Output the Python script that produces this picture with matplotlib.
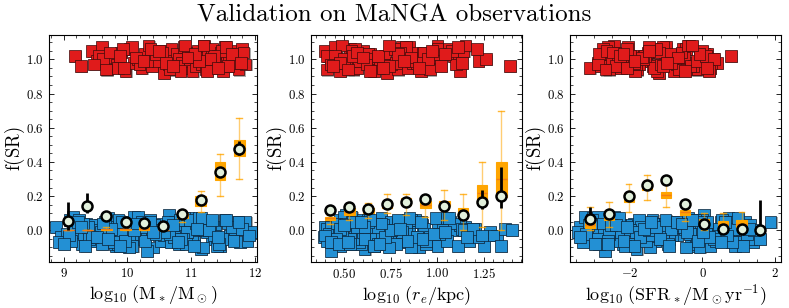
import matplotlib
matplotlib.use("Agg")
import matplotlib.pyplot as plt
import matplotlib.patheffects as pe
from matplotlib.ticker import MultipleLocator

plt.rcParams['font.family'] = 'serif'
plt.rcParams['font.serif'] = ['cmr10', 'DejaVu Serif']
plt.rcParams['mathtext.fontset'] = 'cm'
plt.rcParams['axes.formatter.use_mathtext'] = True
plt.rcParams['axes.unicode_minus'] = True

# ---------------- scatter data (same galaxies in the three panels) ----------------
red_f = [1.02, 0.96, 1.05, 0.99, 1.07, 0.94, 1.01, 0.97, 1.04, 0.93,
         1.06, 0.98, 1.00, 0.95, 1.03, 1.08, 0.96, 1.02, 0.99, 1.05,
         0.92, 1.01, 0.97, 1.06, 0.94, 1.03, 1.00, 0.98, 1.07, 0.95,
         1.04, 0.99, 0.93, 1.02, 0.96, 1.05, 1.01, 0.97, 1.08, 0.94,
         1.03, 0.98, 1.06, 1.00, 0.95, 1.02, 0.97, 1.04, 0.93, 1.07,
         0.99, 1.01, 0.96, 1.05, 0.98, 1.03, 0.94, 1.00, 1.06, 0.97,
         1.02, 0.95, 1.07, 0.99, 1.04, 0.96, 1.01, 0.93, 1.05, 0.98,
         1.00, 1.06, 0.97, 1.03, 0.94, 1.08, 0.99, 1.02, 0.96, 1.04,
         0.97, 1.04, 0.95, 1.01, 1.06, 0.98, 0.93, 1.03, 1.00, 1.07,
         0.94, 1.02, 0.99, 1.05, 0.96, 1.01, 1.08, 0.95, 1.03, 0.98]
red_mass = [9.18, 9.27, 9.45, 9.52, 9.60, 9.68, 9.75, 9.83, 9.90, 9.97,
            10.03, 10.10, 10.16, 10.22, 10.28, 10.33, 10.38, 10.43, 10.48, 10.53,
            10.57, 10.61, 10.65, 10.69, 10.73, 10.77, 10.81, 10.85, 10.88, 10.92,
            10.95, 10.98, 11.02, 11.05, 11.08, 11.11, 11.14, 11.17, 11.20, 11.23,
            11.26, 11.29, 11.32, 11.35, 11.38, 11.41, 11.44, 11.47, 11.50, 11.53,
            11.56, 11.59, 11.62, 11.65, 11.68, 11.71, 11.74, 11.77, 11.80, 11.85,
            9.55, 9.85, 10.07, 10.31, 10.55, 10.79, 11.00, 11.25, 11.48, 11.70,
            9.62, 9.93, 10.19, 10.45, 10.67, 10.90, 11.12, 11.36, 11.58, 11.82,
            9.48, 9.72, 9.95, 10.13, 10.36, 10.60, 10.83, 11.06, 11.30, 11.55,
            9.66, 9.88, 10.25, 10.50, 10.71, 10.94, 11.19, 11.42, 11.64, 11.78]
red_re = [0.42, 0.47, 0.40, 0.52, 0.45, 0.55, 0.43, 0.50, 0.58, 0.48,
          0.53, 0.61, 0.44, 0.57, 0.64, 0.49, 0.67, 0.41, 0.70, 0.60,
          0.73, 0.46, 0.76, 0.56, 0.79, 0.63, 0.82, 0.51, 0.85, 0.68,
          0.88, 0.59, 0.91, 0.72, 0.94, 0.54, 0.97, 0.75, 1.00, 0.65,
          1.03, 0.78, 1.06, 0.62, 0.84, 1.09, 0.71, 0.92, 1.12, 0.81,
          1.22, 0.99, 1.39, 1.14, 0.87, 1.05, 0.96, 1.26, 1.21, 1.10,
          0.45, 0.69, 0.83, 0.58, 0.93, 0.74, 1.01, 0.66, 1.08, 0.89,
          0.50, 0.77, 0.62, 0.98, 0.41, 1.15, 0.86, 0.55, 1.02, 0.80,
          0.43, 0.57, 0.71, 0.86, 1.00, 0.48, 0.64, 0.79, 0.95, 1.11,
          0.52, 0.68, 0.82, 0.97, 0.44, 0.60, 0.74, 0.90, 1.04, 1.13]
red_sfr = [0.79, -2.80, -2.55, -2.30, -2.05, -1.80, -1.55, -1.30, -1.05, -0.80,
           -0.55, -0.30, -0.05, 0.20, -2.70, -2.45, -2.20, -1.95, -1.70, -1.45,
           -1.20, -0.95, -0.70, -0.45, -0.20, 0.05, 0.30, -2.90, -2.62, -3.12,
           -2.37, -2.12, -1.87, -1.62, -1.37, -1.12, -0.87, -0.62, -0.37, -0.12,
           0.13, 0.41, -2.75, -2.50, -2.25, -2.00, -1.75, -1.50, -1.25, -1.00,
           -0.75, -0.50, -0.25, 0.00, 0.25, -2.85, -2.58, -2.33, -2.08, -1.83,
           -1.58, -1.33, -1.08, -0.83, -0.58, -0.33, -0.08, 0.17, -2.65, -1.90,
           -1.65, -1.40, -1.15, -0.90, -0.65, -0.40, -0.15, 0.10, -2.40, -1.20,
           -2.88, -2.48, -2.08, -1.68, -1.28, -0.88, -0.48, -0.08, 0.32, -1.48,
           -2.68, -2.28, -1.88, -1.48, -1.08, -0.68, -0.28, 0.12, -2.18, -0.98]

blue_f = [0.02, -0.05, 0.06, -0.02, -0.08, 0.04, 0.00, -0.06, 0.03, -0.03,
          0.07, -0.01, -0.09, 0.05, -0.04, 0.01, -0.07, 0.08, -0.02, 0.03,
          -0.05, 0.00, 0.06, -0.10, 0.02, -0.03, 0.04, -0.06, 0.09, -0.01,
          0.05, -0.08, 0.01, -0.04, 0.07, -0.02, -0.06, 0.03, -0.11, 0.00,
          0.04, -0.05, 0.02, -0.09, 0.06, -0.03, 0.01, -0.07, 0.05, -0.01,
          -0.04, 0.08, -0.02, 0.03, -0.08, 0.00, 0.06, -0.05, 0.02, -0.12,
          0.01, -0.06, 0.05, -0.03, 0.07, -0.07, 0.03, -0.01, -0.09, 0.04,
          -0.02, 0.06, -0.05, 0.00, 0.02, -0.08, 0.05, -0.04, 0.08, -0.06,
          0.03, -0.03, -0.07, 0.06, -0.01, 0.04, -0.10, 0.01, -0.05, 0.05,
          -0.06, 0.02, 0.05, -0.02, -0.09, 0.03, 0.00, -0.04, 0.06, 0.00,
          0.04, -0.01, -0.08, 0.05, 0.01, -0.05, 0.07, -0.03, 0.02, -0.06,
          -0.07, 0.03, -0.04, 0.01, -0.10, 0.05, -0.02, -0.08, 0.00, 0.06,
          -0.03, -0.09, 0.04, -0.06, 0.02, -0.01, -0.05, 0.07, -0.08, 0.01,
          0.05, -0.04, -0.07, 0.00, -0.02, 0.03, -0.09, 0.06, -0.06, -0.03,
          -0.08, 0.02, -0.05, 0.04, -0.01, -0.07, 0.01, -0.04, 0.05, -0.09]
blue_mass = [8.88, 9.02, 9.10, 9.20, 9.28, 9.35, 9.42, 9.50, 9.57, 9.63,
             9.70, 9.76, 9.82, 9.88, 9.94, 10.00, 10.05, 10.10, 10.15, 10.20,
             10.25, 10.30, 10.35, 10.40, 10.45, 10.50, 10.55, 10.60, 10.65, 10.70,
             10.75, 10.80, 10.85, 10.90, 10.95, 11.00, 11.05, 11.10, 11.15, 11.20,
             11.26, 11.32, 11.38, 11.45, 11.52, 11.60, 11.68, 11.76, 11.85, 11.93,
             8.95, 9.15, 9.32, 9.47, 9.60, 9.73, 9.86, 9.98, 10.12, 10.30,
             10.38, 10.52, 10.63, 10.77, 10.88, 11.02, 11.13, 11.24, 11.40, 11.58,
             9.05, 9.24, 9.40, 9.55, 9.68, 9.80, 9.92, 10.03, 10.17, 10.28,
             10.42, 10.57, 10.68, 10.82, 10.93, 11.07, 11.18, 11.30, 11.48, 11.70,
             9.12, 9.38, 9.65, 9.90, 10.08, 10.33, 10.48, 10.73, 10.98, 11.22,
             9.30, 9.58, 9.85, 10.22, 10.62, 10.87, 11.12, 11.35, 11.63, 11.88,
             8.92, 9.18, 9.45, 9.75, 10.02, 10.36, 10.66, 10.92, 11.28, 11.55,
             9.08, 9.34, 9.62, 9.96, 10.26, 10.58, 10.84, 11.16, 11.44, 11.80,
             9.22, 9.52, 9.78, 10.10, 10.44, 10.71, 11.04, 11.33, 11.66, 11.91,
             9.00, 9.27, 9.70, 10.14, 10.40, 10.79, 11.09, 11.42, 11.74, 9.88]
blue_re = [0.40, 0.45, 0.50, 0.42, 0.55, 0.47, 0.60, 0.52, 0.65, 0.44,
           0.70, 0.57, 0.48, 0.75, 0.62, 0.41, 0.80, 0.53, 0.67, 0.85,
           0.46, 0.72, 0.58, 0.90, 0.43, 0.77, 0.63, 0.95, 0.51, 0.82,
           1.00, 0.68, 0.49, 0.87, 1.05, 0.56, 0.74, 0.92, 0.61, 1.10,
           0.79, 0.97, 1.15, 0.66, 0.84, 1.02, 1.20, 0.71, 0.89, 1.28,
           0.39, 0.54, 0.44, 0.69, 0.59, 0.83, 0.48, 0.76, 0.64, 0.43,
           0.93, 0.52, 1.07, 0.73, 0.99, 0.58, 1.12, 0.81, 1.25, 0.67,
           0.42, 0.88, 0.55, 1.03, 0.47, 0.78, 0.62, 0.96, 0.50, 1.17,
           0.71, 1.32, 0.45, 0.86, 0.60, 1.09, 0.74, 1.36, 0.53, 0.91,
           0.41, 0.65, 0.83, 0.49, 1.00, 0.57, 0.77, 1.22, 0.63, 1.40,
           0.46, 0.70, 0.94, 0.54, 1.13, 0.61, 0.85, 1.30, 0.68, 1.05,
           0.44, 0.58, 0.72, 0.48, 0.86, 0.63, 1.01, 0.53, 1.14, 0.79,
           0.40, 0.66, 0.51, 0.94, 0.57, 0.81, 0.46, 1.06, 0.69, 1.19,
           0.55, 0.89, 0.43, 0.75, 0.98, 0.50, 1.11, 0.64, 0.84, 1.24,
           0.47, 0.61, 0.92, 0.70, 1.04, 0.52, 0.80, 1.16, 0.59, 1.34]
blue_sfr = [-3.40, -3.10, -2.80, -2.50, -2.20, -1.90, -1.60, -1.30, -1.00, -0.70,
            -0.40, -0.10, 0.20, 0.50, 0.80, 1.10, 1.40, -3.25, -2.95, -2.65,
            -2.35, -2.05, -1.75, -1.45, -1.15, -0.85, -0.55, -0.25, 0.05, 0.35,
            0.65, 0.95, 1.25, -3.32, -3.02, -2.72, -2.42, -2.12, -1.82, -1.52,
            -1.22, -0.92, -0.62, -0.32, -0.02, 0.28, 0.58, 0.88, 1.18, 1.48,
            -3.18, -2.88, -2.58, -2.28, -1.98, -1.68, -1.38, -1.08, -0.78, -2.70,
            -0.48, -0.18, 0.12, 0.42, 0.72, 1.02, 1.32, -3.45, -2.15, -1.25,
            -0.35, 0.55, -2.90, -1.95, -1.05, -0.15, 0.75, 1.55, -2.45, -1.55,
            -0.65, 0.25, 1.05, -3.05, -2.25, -1.35, -0.45, 0.45, 1.35, 1.88,
            -2.60, -1.70, -0.80, 0.10, 0.90, -3.15, -2.00, -1.10, -0.20, 0.70,
            -2.75, -1.85, -0.95, -0.05, 0.85, 1.60, -2.30, -1.40, -0.50, 0.38,
            -3.30, -2.52, -1.72, -0.88, -0.08, 0.62, 1.22, -2.85, -1.48, -0.28,
            0.48, 1.12, -3.08, -2.18, -1.28, -0.42, 0.32, 0.98, -2.62, -1.62,
            -0.72, 0.18, 0.82, 1.42, -3.22, -2.38, -1.88, -1.02, -0.12, 0.68,
            -2.98, -2.08, -1.18, -0.58, 0.02, 0.52, 1.28, -3.38, -1.42, -0.92]

# ---------------- binned statistics ----------------
# panel 1: stellar mass
mass_bins = [9.07, 9.37, 9.67, 9.97, 10.26, 10.56, 10.86, 11.15, 11.45, 11.75]
mass_obs = [0.056, 0.142, 0.085, 0.049, 0.041, 0.027, 0.097, 0.175, 0.339, 0.477]
mass_obs_lo = [0.0, 0.10, 0.06, 0.03, 0.03, 0.02, 0.08, 0.15, 0.32, 0.44]
mass_obs_hi = [0.167, 0.216, 0.10, 0.06, 0.05, 0.04, 0.11, 0.19, 0.36, 0.52]
mass_q1 = [0.0, 0.0, 0.0, 0.0, 0.0, 0.0, 0.07, 0.14, 0.294, 0.434]
mass_med = [0.0, 0.0, 0.005, 0.005, 0.01, 0.0, 0.085, 0.17, 0.34, 0.48]
mass_q3 = [0.0, 0.0, 0.01, 0.01, 0.02, 0.0, 0.10, 0.20, 0.40, 0.528]
mass_wlo = [0.0, 0.0, 0.0, 0.0, 0.0, 0.0, 0.05, 0.11, 0.202, 0.298]
mass_whi = [0.0, 0.0, 0.02, 0.02, 0.03, 0.0, 0.12, 0.228, 0.446, 0.659]

# panel 2: effective radius
re_bins = [0.425, 0.527, 0.629, 0.730, 0.832, 0.934, 1.036, 1.137, 1.239, 1.341]
re_obs = [0.119, 0.138, 0.125, 0.152, 0.165, 0.181, 0.142, 0.088, 0.164, 0.200]
re_obs_lo = [0.10, 0.12, 0.11, 0.14, 0.15, 0.165, 0.125, 0.07, 0.125, 0.129]
re_obs_hi = [0.13, 0.15, 0.14, 0.165, 0.18, 0.195, 0.155, 0.115, 0.235, 0.372]
re_q1 = [0.06, 0.09, 0.10, 0.13, 0.15, 0.13, 0.14, 0.085, 0.158, 0.196]
re_med = [0.07, 0.11, 0.115, 0.145, 0.17, 0.15, 0.155, 0.11, 0.216, 0.298]
re_q3 = [0.08, 0.13, 0.13, 0.16, 0.19, 0.17, 0.17, 0.13, 0.265, 0.401]
re_wlo = [0.037, 0.06, 0.07, 0.10, 0.09, 0.08, 0.06, 0.0, 0.021, 0.0]
re_whi = [0.09, 0.15, 0.161, 0.21, 0.21, 0.20, 0.234, 0.21, 0.401, 0.698]

# panel 3: star formation rate
sfr_bins = [-3.10, -2.58, -2.04, -1.54, -1.01, -0.49, 0.04, 0.56, 1.08, 1.60]
sfr_obs = [0.066, 0.097, 0.202, 0.263, 0.292, 0.156, 0.039, 0.008, 0.006, 0.0]
sfr_obs_lo = [0.05, 0.08, 0.19, 0.25, 0.28, 0.14, 0.03, 0.0, 0.0, 0.0]
sfr_obs_hi = [0.138, 0.115, 0.215, 0.275, 0.305, 0.17, 0.05, 0.02, 0.02, 0.177]
sfr_q1 = [0.015, 0.06, 0.167, 0.236, 0.187, 0.089, 0.04, 0.021, 0.02, 0.0]
sfr_med = [0.03, 0.08, 0.19, 0.25, 0.205, 0.11, 0.05, 0.04, 0.04, 0.0]
sfr_q3 = [0.05, 0.10, 0.216, 0.265, 0.222, 0.119, 0.065, 0.054, 0.06, 0.0]
sfr_wlo = [0.0, 0.021, 0.109, 0.177, 0.134, 0.054, 0.0, 0.0, 0.0, 0.0]
sfr_whi = [0.137, 0.167, 0.271, 0.323, 0.27, 0.15, 0.099, 0.099, 0.109, 0.0]

# ---------------- figure ----------------
W, H = 789, 308
fig = plt.figure(figsize=(W / 100, H / 100), dpi=100)

RED = '#e01b1b'
BLUE = '#2390d4'
BOX = '#ffa500'
CIRCLE_FACE = '#e2f0dc'

panels = [
    dict(left=49, right=257, xlim=(8.77, 12.03), major=1.0, minor=0.2,
         rx=red_mass, bx=blue_mass, bins=mass_bins, obs=mass_obs, lo=mass_obs_lo, hi=mass_obs_hi,
         q1=mass_q1, med=mass_med, q3=mass_q3, wlo=mass_wlo, whi=mass_whi, width=0.17,
         xlabel=r'$\log_{10}\,(\mathrm{M_*/M_\odot})$'),
    dict(left=311, right=522, xlim=(0.323, 1.453), major=0.25, minor=0.05,
         rx=red_re, bx=blue_re, bins=re_bins, obs=re_obs, lo=re_obs_lo, hi=re_obs_hi,
         q1=re_q1, med=re_med, q3=re_q3, wlo=re_wlo, whi=re_whi, width=0.058,
         xlabel=r'$\log_{10}\,(r_e/\mathrm{kpc})$'),
    dict(left=570, right=781, xlim=(-3.66, 2.17), major=2.0, minor=0.5,
         rx=red_sfr, bx=blue_sfr, bins=sfr_bins, obs=sfr_obs, lo=sfr_obs_lo, hi=sfr_obs_hi,
         q1=sfr_q1, med=sfr_med, q3=sfr_q3, wlo=sfr_wlo, whi=sfr_whi, width=0.28,
         xlabel=r'$\log_{10}\,(\mathrm{SFR_*/M_\odot yr^{-1}})$'),
]

top, bottom = 35, 262
shadow = [pe.SimplePatchShadow(offset=(0.8, -0.8), shadow_rgbFace='#888888', alpha=0.7), pe.Normal()]

for p in panels:
    wpx = p['right'] - p['left']
    ax = fig.add_axes([p['left'] / W, 1 - bottom / H, wpx / W, (bottom - top) / H])
    sc1 = ax.scatter(p['rx'], red_f, marker='s', s=72, c=RED, edgecolors='#3a0a0a',
                     linewidths=0.5, zorder=2)
    sc1.set_path_effects(shadow)
    sc2 = ax.scatter(p['bx'], blue_f, marker='s', s=72, c=BLUE, edgecolors='#0a1f33',
                     linewidths=0.5, zorder=2)
    sc2.set_path_effects(shadow)

    stats = []
    for i in range(len(p['bins'])):
        stats.append(dict(q1=p['q1'][i], med=p['med'][i], q3=p['q3'][i],
                          whislo=p['wlo'][i], whishi=p['whi'][i], fliers=[]))
    w = p['width']
    ax.bxp(stats, positions=p['bins'], widths=w, capwidths=w * 0.55, patch_artist=True,
           showfliers=False, manage_ticks=False, zorder=3,
           boxprops=dict(facecolor=BOX, edgecolor=BOX, linewidth=0.8),
           whiskerprops=dict(color=BOX, alpha=0.55, linewidth=1.0),
           capprops=dict(color=BOX, alpha=0.8, linewidth=1.0),
           medianprops=dict(color='#f06a1a', alpha=0.7, linewidth=1.0))

    yerr = [[o - l for o, l in zip(p['obs'], p['lo'])], [h - o for o, h in zip(p['obs'], p['hi'])]]
    ax.errorbar(p['bins'], p['obs'], yerr=yerr, fmt='o', ms=7.2, mfc=CIRCLE_FACE, mec='black',
                mew=1.8, ecolor='black', elinewidth=2.0, capsize=0, zorder=5)

    ax.set_xlim(*p['xlim'])
    ax.set_ylim(-0.185, 1.142)
    ax.xaxis.set_major_locator(MultipleLocator(p['major']))
    ax.xaxis.set_minor_locator(MultipleLocator(p['minor']))
    ax.yaxis.set_major_locator(MultipleLocator(0.2))
    ax.yaxis.set_minor_locator(MultipleLocator(0.05))
    ax.tick_params(which='both', direction='in', top=True, right=True, labelsize=9.2)
    ax.tick_params(which='major', length=3.5, width=0.6)
    ax.tick_params(which='minor', length=2, width=0.5)
    for s in ax.spines.values():
        s.set_linewidth(0.8)
    ax.set_xlabel(p['xlabel'], fontsize=13, labelpad=2)
    ax.set_ylabel(r'$\mathrm{f(SR)}$', fontsize=13.5)
    ax.yaxis.set_label_coords(-22.0 / wpx, 0.5)

fig.suptitle('Validation on MaNGA observations', fontsize=18, y=0.985)
fig.savefig('out.png', dpi=100)
